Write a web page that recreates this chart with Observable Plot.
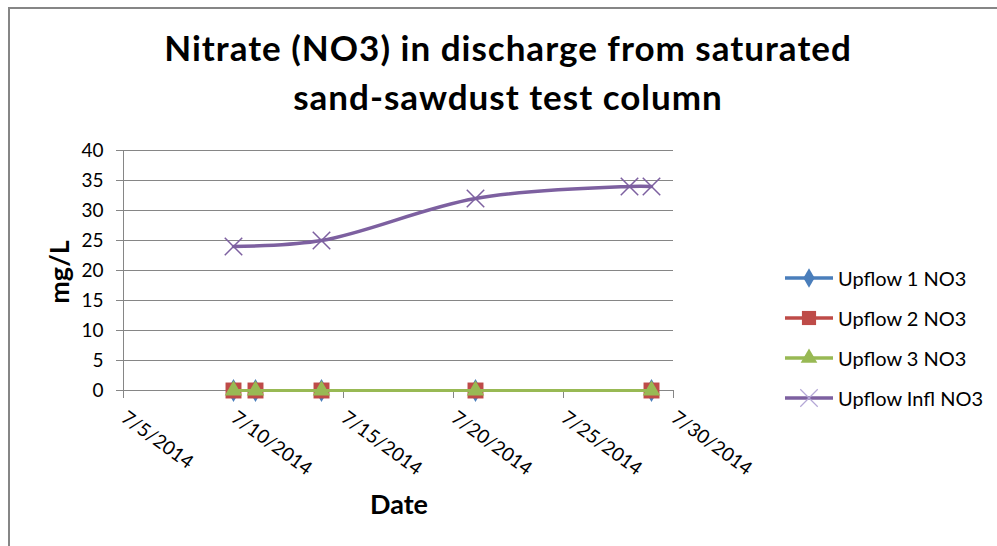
<!DOCTYPE html>
<html>
<head>
<meta charset="utf-8">
<script src="https://cdn.jsdelivr.net/npm/d3@7"></script>
<script src="https://cdn.jsdelivr.net/npm/@observablehq/plot@0.6"></script>
<style>
  html, body { margin: 0; padding: 0; background: #fff; }
  #wrap { position: relative; width: 997px; height: 546px; overflow: hidden; font-family: Lato, "Liberation Sans", sans-serif; }
  #wrap svg.plot { position: absolute; left: 0; top: 0; }
  .frame { position: absolute; left: 8px; top: 7px; width: 1200px; height: 700px; border-left: 2px solid #868686; border-top: 2px solid #868686; }
  .title { position: absolute; left: 0; width: 1016px; top: 23px; text-align: center; font-weight: bold; font-size: 35px; letter-spacing: 1px; line-height: 49px; color: #000; }
  .ylab { position: absolute; left: 58px; top: 272px; transform: translate(-50%, -50%) rotate(-90deg); font-weight: bold; font-size: 27px; white-space: nowrap; }
  .xlab { position: absolute; left: 399px; top: 503px; transform: translate(-50%, -50%); font-weight: bold; font-size: 27px; }
  .legend { position: absolute; left: 783px; top: 258px; }
  .legend .item { display: flex; align-items: center; height: 40px; font-size: 20px; color: #000; }
  .legend svg { margin-right: 3px; }
</style>
</head>
<body>
<div id="wrap">
  <div class="frame"></div>
  <div class="title">Nitrate (NO3) in discharge from saturated<br>sand-sawdust test column</div>
  <div class="ylab">mg/L</div>
  <div class="xlab">Date</div>
  <div class="legend" id="legend"></div>
</div>
<script>
// ---- data ----
const seriesNames = ["Upflow 1 NO3", "Upflow 2 NO3", "Upflow 3 NO3", "Upflow Infl NO3"];
const seriesColors = ["#4A7EBB", "#BE4B48", "#98B954", "#7D60A0"];
const seriesSymbols = ["diamond", "square", "triangle", "times"];

const upflowDates = ["2014-07-10", "2014-07-11", "2014-07-14", "2014-07-21", "2014-07-29"];
const upflow1 = [0, 0, 0, 0, 0];
const upflow2 = [0, 0, 0, 0, 0];
const upflow3 = [0, 0, 0, 0, 0];
const inflDates = ["2014-07-10", "2014-07-14", "2014-07-21", "2014-07-28", "2014-07-29"];
const upflowInfl = [24, 25, 32, 34, 34];

const xTickDates = ["2014-07-05", "2014-07-10", "2014-07-15", "2014-07-20", "2014-07-25", "2014-07-30"];
const yTicks = [0, 5, 10, 15, 20, 25, 30, 35, 40];

// ---- build ----
const parse = d3.utcParse("%Y-%m-%d");
const fmt = d3.utcFormat("%-m/%-d/%Y");
const xTicks = xTickDates.map(parse);

function rows(dates, vals, name) {
  return dates.map((d, i) => ({date: parse(d), value: vals[i], series: name}));
}
const s1 = rows(upflowDates, upflow1, seriesNames[0]);
const s2 = rows(upflowDates, upflow2, seriesNames[1]);
const s3 = rows(upflowDates, upflow3, seriesNames[2]);
const s4 = rows(inflDates, upflowInfl, seriesNames[3]);

const gray = "#868686";

const chart = Plot.plot({
  width: 997,
  height: 546,
  marginLeft: 123,
  marginRight: 324,
  marginTop: 150,
  marginBottom: 156,
  style: {fontFamily: "Lato, 'Liberation Sans', sans-serif", fontSize: "19px", color: "#000", background: "transparent"},
  x: {type: "utc", domain: [xTicks[0], xTicks[xTicks.length - 1]]},
  y: {domain: [0, 40]},
  marks: [
    Plot.gridY(yTicks, {stroke: gray, strokeOpacity: 1, strokeWidth: 1}),
    Plot.axisY(yTicks, {tickSize: 7, tickPadding: 13, stroke: gray, label: null, fontSize: 19}),
    Plot.axisX(xTicks, {tickSize: 8, tickPadding: 17, tickRotate: 36, tickFormat: fmt, stroke: gray, label: null, fontSize: 19}),
    Plot.ruleX([xTicks[0]], {stroke: gray, strokeWidth: 1}),
    Plot.ruleY([0], {stroke: gray, strokeWidth: 1}),
    Plot.line(s1, {x: "date", y: "value", stroke: seriesColors[0], strokeWidth: 3}),
    Plot.dot(s1, {x: "date", y: "value", symbol: () => seriesSymbols[0], fill: seriesColors[0], r: 7}),
    Plot.line(s2, {x: "date", y: "value", stroke: seriesColors[1], strokeWidth: 3}),
    Plot.dot(s2, {x: "date", y: "value", symbol: () => seriesSymbols[1], fill: seriesColors[1], r: 9}),
    Plot.line(s3, {x: "date", y: "value", stroke: seriesColors[2], strokeWidth: 3}),
    Plot.dot(s3, {x: "date", y: "value", symbol: () => seriesSymbols[2], fill: seriesColors[2], r: 6.5}),
    Plot.line(s4, {x: "date", y: "value", stroke: seriesColors[3], strokeWidth: 3.5, curve: "catmull-rom"}),
    Plot.dot(s4, {x: "date", y: "value", symbol: () => seriesSymbols[3], stroke: seriesColors[3], strokeWidth: 1.5, r: 8})
  ]
});
chart.classList.add("plot");
document.getElementById("wrap").prepend(chart);

// ---- legend ----
const legend = d3.select("#legend");
seriesNames.forEach((name, i) => {
  const item = legend.append("div").attr("class", "item");
  const svg = item.append("svg").attr("width", 52).attr("height", 20);
  svg.append("line").attr("x1", 2).attr("x2", 50).attr("y1", 10).attr("y2", 10)
    .attr("stroke", seriesColors[i]).attr("stroke-width", 3.5);
  const sym = {diamond: d3.symbolDiamond, square: d3.symbolSquare, triangle: d3.symbolTriangle, times: d3.symbolTimes}[seriesSymbols[i]];
  const sizes = {diamond: 110, square: 200, triangle: 120, times: 200};
  const path = d3.symbol(sym, sizes[seriesSymbols[i]])();
  const p = svg.append("path").attr("d", path).attr("transform", "translate(26,10)");
  if (seriesSymbols[i] === "times") p.attr("fill", "none").attr("stroke", "#B4A7D6").attr("stroke-width", 1.2);
  else p.attr("fill", seriesColors[i]);
  item.append("span").text(name);
});
</script>
</body>
</html>
